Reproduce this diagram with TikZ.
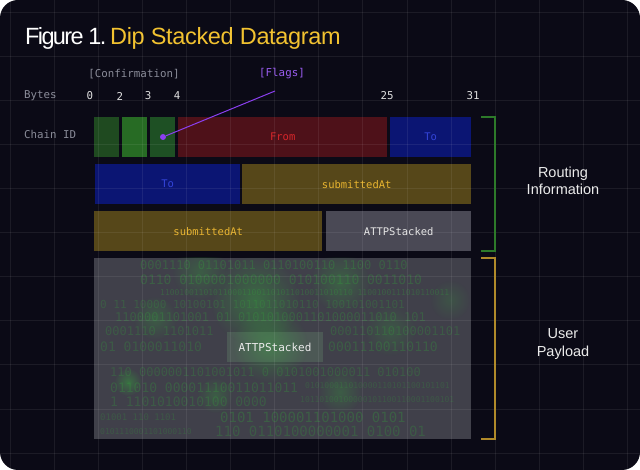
\documentclass[tikz,border=0pt]{standalone}
\usepackage{fontspec}
\setmainfont{Liberation Sans}
\newfontfamily\titlefontA[LetterSpace=-7]{Liberation Sans}
\newfontfamily\titlefontB[LetterSpace=-1.5]{Liberation Sans}
\newfontfamily\labfont{Liberation Sans}
\newfontfamily\monofont{DejaVu Sans Mono}
\usetikzlibrary{fadings}
\definecolor{bg}{HTML}{0B0A16}
\definecolor{gA}{HTML}{1F4A20}
\definecolor{gB}{HTML}{276B24}
\definecolor{gC}{HTML}{1E5024}
\definecolor{redbox}{HTML}{4E1119}
\definecolor{redtxt}{HTML}{D8262A}
\definecolor{bluebox}{HTML}{0B1573}
\definecolor{bluetxt}{HTML}{3344D8}
\definecolor{yelbox}{HTML}{564719}
\definecolor{yeltxt}{HTML}{E8B430}
\definecolor{graybox}{HTML}{4A4955}
\definecolor{paybox}{HTML}{40404A}
\definecolor{bin}{HTML}{34A03C}
\definecolor{purp}{HTML}{8B3FF0}
\definecolor{purptxt}{HTML}{9A5CF0}
\definecolor{graytxt}{HTML}{8A8C99}
\definecolor{brgreen}{HTML}{2D7A2A}
\definecolor{bryel}{HTML}{B08A2A}
\definecolor{titleyel}{HTML}{F2C230}
\tikzfading[name=glowfade, inner color=transparent!0, outer color=transparent!100]
\tikzset{
  fieldbox/.style={draw=none, inner sep=0pt, anchor=north west, font=\monofont\fontsize{10.5}{12}\selectfont},
  monolab/.style={inner sep=0pt, font=\monofont\fontsize{10.8}{12}\selectfont},
  sidelab/.style={align=center, text=white!92!black, font=\labfont\fontsize{14.5}{17.5}\selectfont},
  bracketG/.style={draw=brgreen, line width=1.6pt},
  bracketY/.style={draw=bryel, line width=1.6pt},
  gridline/.style={draw=white, opacity=0.07, line width=0.8pt},
  binrow/.style={anchor=west, inner sep=0pt, text=bin}
}
\begin{document}
\begin{tikzpicture}[x=1pt,y=-1pt]
\useasboundingbox (0,0) rectangle (640,470);
\fill[white] (0,0) rectangle (640,470);
\fill[bg, rounded corners=18pt] (0,0) rectangle (640,470);

% title
\node[anchor=base west, inner sep=0pt, text=white, font=\titlefontA\fontsize{23.5}{26}\selectfont] (titleA) at (25,45) {Figure 1.};
\node[anchor=base west, inner sep=0pt, text=titleyel, font=\titlefontB\fontsize{23.5}{26}\selectfont] (titleB) at (110,45) {Dip Stacked Datagram};

% header labels
\node[monolab, text=graytxt] (conf) at (134,74) {[Confirmation]};
\node[monolab, text=purptxt] (flags) at (282,74) {[Flags]};
\node[monolab, text=graytxt, anchor=west] (bytes) at (24,96) {Bytes};
\node[monolab, text=white!88!black] (n0) at (90,96) {0};
\node[monolab, text=white!88!black] (n2) at (120,96) {2};
\node[monolab, text=white!88!black] (n3) at (148,96) {3};
\node[monolab, text=white!88!black] (n4) at (177,96) {4};
\node[monolab, text=white!88!black] (n25) at (387,96) {25};
\node[monolab, text=white!88!black] (n31) at (473,96) {31};
\node[monolab, text=graytxt, anchor=west] (chain) at (24,134) {Chain ID};

% row 1
\node[fieldbox, fill=gA, minimum width=25pt, minimum height=40pt] (c1) at (94,117) {};
\node[fieldbox, fill=gB, minimum width=25pt, minimum height=40pt] (c2) at (122,117) {};
\node[fieldbox, fill=gC, minimum width=25pt, minimum height=40pt] (c3) at (150,117) {};
\node[fieldbox, fill=redbox, text=redtxt, minimum width=209pt, minimum height=40pt] (from) at (178,117) {From};
\node[fieldbox, fill=bluebox, text=bluetxt, minimum width=81pt, minimum height=40pt] (toA) at (390,117) {To};
% row 2
\node[fieldbox, fill=bluebox, text=bluetxt, minimum width=145pt, minimum height=40pt] (toB) at (95,164) {To};
\node[fieldbox, fill=yelbox, text=yeltxt, minimum width=229pt, minimum height=40pt] (subA) at (242,164) {submittedAt};
% row 3
\node[fieldbox, fill=yelbox, text=yeltxt, minimum width=228pt, minimum height=40pt] (subB) at (94,211) {submittedAt};
\node[fieldbox, fill=graybox, text=white!90!black, minimum width=145pt, minimum height=40pt] (attpA) at (326,211) {ATTPStacked};
% payload
\node[fieldbox, fill=paybox, minimum width=377pt, minimum height=181pt] (pay) at (94,258) {};

\begin{scope}
\clip (94,258) rectangle (471,439);
\foreach \gx/\gy/\gr/\go in {255/300/45/0.45, 340/282/30/0.35, 200/272/28/0.3, 128/382/14/0.5,
  340/392/22/0.3, 155/318/22/0.3, 390/330/26/0.25, 270/345/38/0.45, 215/395/18/0.3, 450/300/20/0.2}
  \fill[bin, path fading=glowfade, opacity=\go] (\gx,\gy) circle (\gr);
\foreach \bx/\by/\bs/\bo/\bt [count=\i] in {
  140/265/12/0.32/{0001110 01101011  0110100110 1100 0110},
  140/280/13/0.32/{0110 0100001000000 010100110 0011010},
  160/293/8/0.32/{1100100110101100011001101011010011010110 1100100111010110011},
  100/304/11/0.28/{0 11 10000 10100101  1011011010110 100101001101},
  115/317/12/0.30/{1100001101001 01 0101010001101000011010 101},
  105/331/12/0.28/{0001110 1101011},
  330/331/12/0.28/{000110110100001101},
  100/347/13/0.28/{01 0100011010},
  328/347/13/0.30/{00011100110110},
  110/372/12/0.28/{110 0000001101001011 0 0101001000011 010100},
  110/388/13/0.30/{011010 00001110011011011},
  305/386/8/0.25/{010100011010000110101100101101},
  110/402/13/0.28/{1 1101010010100 0000},
  300/400/8/0.25/{10110100100000101100110001100101},
  100/417/9/0.25/{01001 110 1101},
  220/417/14/0.32/{0101 100001101000 0101},
  100/432/8/0.25/{0101110001101000110},
  215/431/14/0.28/{110 0110100000001 0100 01}}
  \node[binrow, opacity=\bo, font=\monofont\fontsize{\bs}{\bs}\selectfont] (bin\i) at (\bx,\by) {\bt};
\end{scope}
\node[fill=white!40!bin, fill opacity=0.18, text opacity=1, text=white!92!black, minimum width=96pt, minimum height=30pt, inner sep=0pt, font=\monofont\fontsize{11}{12}\selectfont] (attpB) at (275,347) {ATTPStacked};

% grid
\begin{scope}
\clip[rounded corners=18pt] (0,0) rectangle (640,470);
\foreach \k in {0,...,14}
  \draw[gridline] ({10+44.1*\k},0) -- ({10+44.1*\k},470);
\foreach \k in {0,...,10}
  \draw[gridline] (0,{12+44.1*\k}) -- (640,{12+44.1*\k});
\end{scope}

% flags pointer
\node[circle, fill=purp, inner sep=0pt, minimum size=6pt] (dot) at (163,137) {};
\coordinate (flagend) at (275,91);
\draw[purp, line width=1pt] (dot) -- (flagend);

% brackets
\coordinate (gT) at (481,117);
\coordinate (gB) at (481,251);
\draw[bracketG] (gT) -- (495,117) -- (495,251) -- (gB);
\coordinate (yT) at (481,258);
\coordinate (yB) at (481,439);
\draw[bracketY] (yT) -- (495,258) -- (495,439) -- (yB);

\node[sidelab] (routing) at (563,181) {Routing\\Information};
\node[sidelab] (user) at (563,344) {User\\Payload};
\end{tikzpicture}
\end{document}
